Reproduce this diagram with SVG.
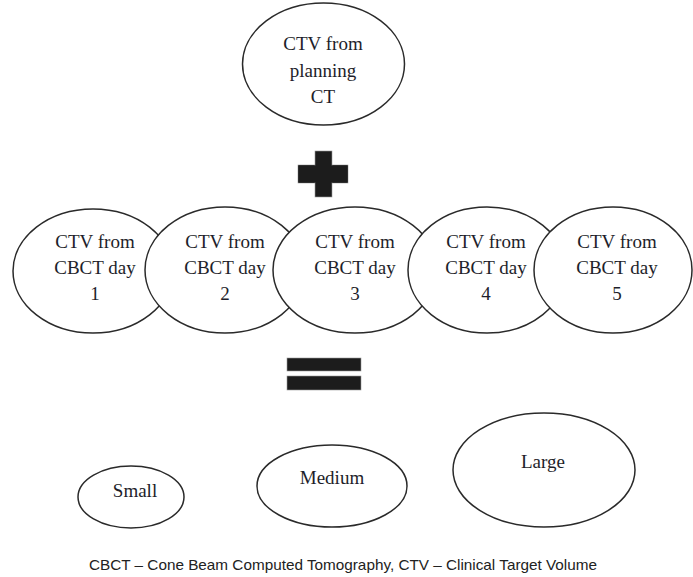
<svg xmlns="http://www.w3.org/2000/svg" width="693" height="577" viewBox="0 0 693 577">
<style>
.n{fill:#fff;stroke:#2a2a2a;stroke-width:1.5}
.t{font-family:"Liberation Serif","Times New Roman",serif;font-size:19px;fill:#1e1e2a;text-anchor:middle}
.sym{fill:#1c1c1c;stroke:#9a9a9a;stroke-width:0.6}
.cap{font-family:"Liberation Sans",Arial,sans-serif;font-size:14.5px;fill:#222;text-anchor:middle}
</style>
<rect width="693" height="577" fill="#fff"/>
<g id="planning">
<ellipse class="n" cx="323.5" cy="64" rx="81" ry="61"/>
<text class="t" x="323" y="50">CTV from</text>
<text class="t" x="323" y="77">planning</text>
<text class="t" x="323" y="103">CT</text>
</g>
<g id="plus">
<rect class="sym" x="298" y="165" width="50" height="18"/>
<rect class="sym" x="315" y="151" width="17" height="46"/>
<rect x="298.5" y="165.5" width="49" height="17" fill="#1c1c1c"/>
</g>
<g id="day1">
<ellipse class="n" cx="93" cy="271" rx="80" ry="62"/>
<text class="t" x="95" y="248">CTV from</text>
<text class="t" x="95" y="274">CBCT day</text>
<text class="t" x="95" y="300">1</text>
</g>
<g id="day2">
<ellipse class="n" cx="225" cy="270" rx="80" ry="63"/>
<text class="t" x="225" y="248">CTV from</text>
<text class="t" x="225" y="274">CBCT day</text>
<text class="t" x="225" y="300">2</text>
</g>
<g id="day3">
<ellipse class="n" cx="355" cy="270" rx="82" ry="63"/>
<text class="t" x="355" y="248">CTV from</text>
<text class="t" x="355" y="274">CBCT day</text>
<text class="t" x="355" y="300">3</text>
</g>
<g id="day4">
<ellipse class="n" cx="487" cy="270" rx="79" ry="63"/>
<text class="t" x="486" y="248">CTV from</text>
<text class="t" x="486" y="274">CBCT day</text>
<text class="t" x="486" y="300">4</text>
</g>
<g id="day5">
<ellipse class="n" cx="613" cy="270" rx="79" ry="63"/>
<text class="t" x="617" y="248">CTV from</text>
<text class="t" x="617" y="274">CBCT day</text>
<text class="t" x="617" y="300">5</text>
</g>
<g id="equals">
<rect class="sym" x="287" y="358" width="74" height="13"/>
<rect class="sym" x="287" y="376" width="74" height="14"/>
</g>
<g id="small">
<ellipse class="n" cx="131" cy="497" rx="53" ry="31"/>
<text class="t" x="135" y="497">Small</text>
</g>
<g id="medium">
<ellipse class="n" cx="332" cy="486" rx="75" ry="41"/>
<text class="t" x="332" y="484">Medium</text>
</g>
<g id="large">
<ellipse class="n" cx="544" cy="470" rx="91" ry="57"/>
<text class="t" x="543" y="468">Large</text>
</g>
<g id="connectors"></g>
<text class="cap" x="343" y="570" textLength="508" lengthAdjust="spacingAndGlyphs">CBCT – Cone Beam Computed Tomography, CTV – Clinical Target Volume</text>
</svg>
